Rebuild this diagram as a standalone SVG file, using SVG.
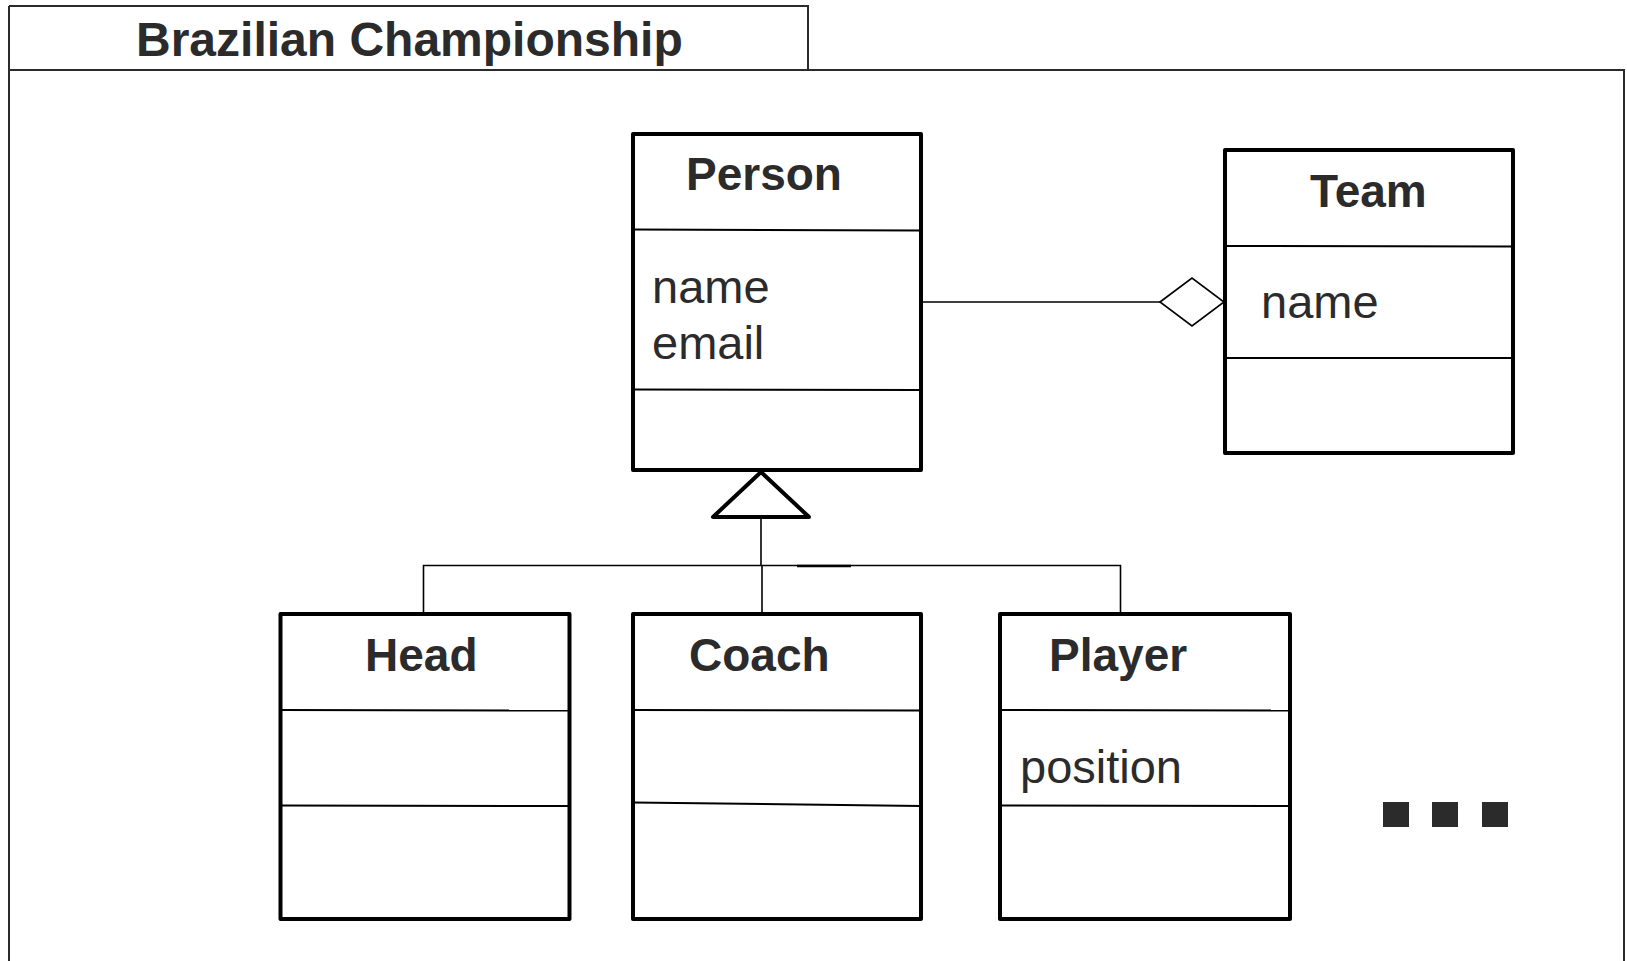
<svg xmlns="http://www.w3.org/2000/svg" width="1627" height="961" viewBox="0 0 1627 961">
<style>
.frame{fill:none;stroke:#2b2b2b;stroke-width:2}
.box{fill:#fff;stroke:#000;stroke-width:4;stroke-linejoin:round}
.div{stroke:#000;stroke-width:2;fill:none}
.conn{stroke:#000;stroke-width:1.6;fill:none}
.title{font-family:"Liberation Sans",Arial,sans-serif;font-weight:bold;font-size:48px;fill:#2b2b2b}
.cls{font-family:"Liberation Sans",Arial,sans-serif;font-weight:bold;font-size:46px;fill:#2b2b2b}
.attr{font-family:"Liberation Sans",Arial,sans-serif;font-size:47px;fill:#2b2b2b}
.dot{fill:#2b2b2b}
</style>
<rect width="1627" height="961" fill="#fff"/>
<g id="package">
<path class="frame" d="M9,6 H808 V70"/>
<path class="frame" d="M9,6 V970 M9,70 H1624 V970"/>
<text class="title" x="136" y="56">Brazilian Championship</text>
</g>
<g id="connectors">
<line class="conn" x1="921" y1="302" x2="1160" y2="302"/>
<polygon points="1160,302 1192,278 1224,302 1192,326" fill="#fff" stroke="#000" stroke-width="1.6"/>
<line class="conn" x1="761" y1="517" x2="761" y2="565.5"/>
<line class="conn" x1="762" y1="565.5" x2="762" y2="613"/>
<polyline class="conn" points="423.5,613 423.5,565.5 1120.5,565.5 1120.5,613"/>
<line stroke="#000" stroke-width="2.4" x1="797" y1="566" x2="851" y2="566"/>
<polygon points="761,472 713,517 809,517" fill="#fff" stroke="#000" stroke-width="4" stroke-linejoin="round"/>
</g>
<g id="Person">
<rect class="box" x="633" y="134" width="288" height="336"/>
<line class="div" x1="633" y1="229.5" x2="921" y2="230.5"/>
<line class="div" x1="633" y1="389.5" x2="921" y2="390"/>
<text class="cls" x="686" y="190">Person</text>
<text class="attr" x="652" y="303">name</text>
<text class="attr" x="652" y="359">email</text>
</g>
<g id="Team">
<rect class="box" x="1225" y="150" width="288" height="303"/>
<line class="div" x1="1225" y1="246" x2="1513" y2="246.5"/>
<line class="div" x1="1225" y1="358" x2="1513" y2="358"/>
<text class="cls" x="1310" y="207">Team</text>
<text class="attr" x="1261" y="318">name</text>
</g>
<g id="Head">
<rect class="box" x="280.5" y="614" width="289" height="305"/>
<line class="div" x1="280.5" y1="710" x2="569.5" y2="710.5"/>
<line class="div" x1="280.5" y1="805.5" x2="569.5" y2="806"/>
<text class="cls" x="365" y="671">Head</text>
</g>
<g id="Coach">
<rect class="box" x="633" y="614" width="288" height="305"/>
<line class="div" x1="633" y1="710" x2="921" y2="710.5"/>
<line class="div" x1="633" y1="802.5" x2="921" y2="806"/>
<text class="cls" x="689" y="671">Coach</text>
</g>
<g id="Player">
<rect class="box" x="1000" y="614" width="290" height="305"/>
<line class="div" x1="1000" y1="710" x2="1290" y2="710.5"/>
<line class="div" x1="1000" y1="805.5" x2="1290" y2="806"/>
<text class="cls" x="1049" y="671">Player</text>
<text class="attr" x="1020" y="783">position</text>
</g>
<g id="ellipsis">
<rect class="dot" x="1383" y="802" width="26" height="25"/>
<rect class="dot" x="1432" y="802" width="26" height="25"/>
<rect class="dot" x="1482" y="802" width="26" height="25"/>
</g>
</svg>
